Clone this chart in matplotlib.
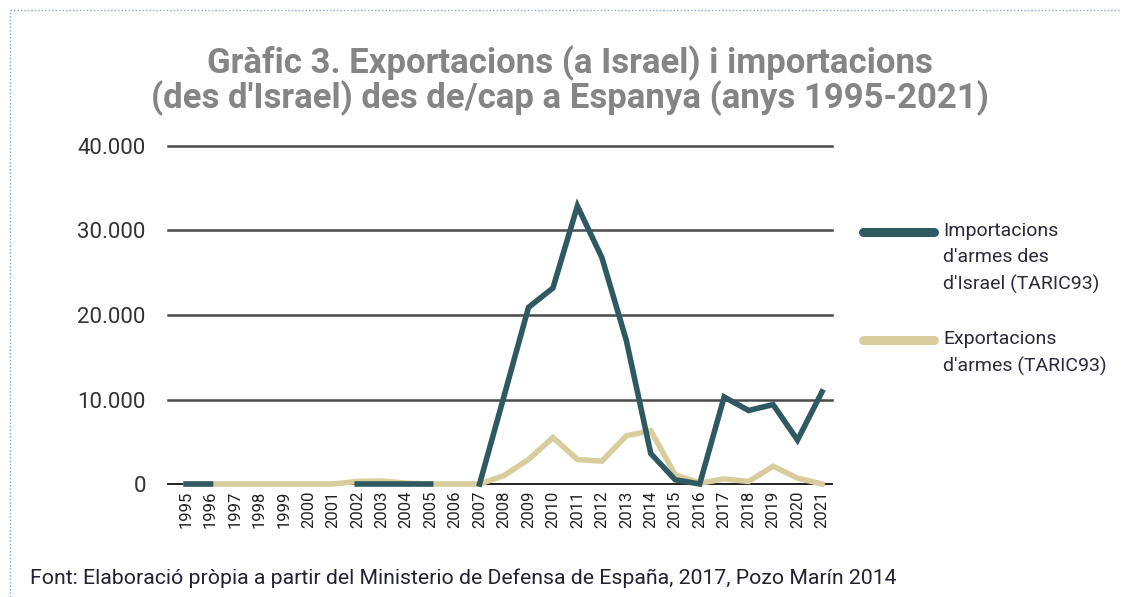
import numpy as np
import matplotlib.pyplot as plt
from matplotlib.lines import Line2D

plt.rcParams['font.family'] = ['Roboto', 'DejaVu Sans']

# Data (units, 1995-2021); NaN = no value drawn
years = list(range(1995, 2022))
imports = [0, 0, np.nan, np.nan, np.nan, np.nan, np.nan,
           0, 0, 0, 0, np.nan, 0,
           10400, 20900, 23200, 32900, 26800, 17000,
           3600, 500, 0, 10300, 8700, 9400, 5200, 10900]
exports = [0, 0, 0, 0, 0, 0, 0,
           300, 350, 100, 0, 0, 0,
           1000, 2900, 5500, 2900, 2700, 5700,
           6300, 1100, 100, 600, 300, 2100, 700, 0]
yticks = [0, 10000, 20000, 30000, 40000]
ytick_labels = ['0', '10.000', '20.000', '30.000', '40.000']
label_imp = "Importacions\nd'armes des\nd'Israel (TARIC93)"
label_exp = "Exportacions\nd'armes (TARIC93)"

dark = '#2f5960'
tan = '#d9cd9e'

W, H = 1121, 597
fig = plt.figure(figsize=(W / 100, H / 100), dpi=100)
ax = fig.add_axes([168 / W, 1 - 484 / H, 664 / W, 338 / H])

for y in yticks:
    ax.axhline(y, color='#4a4a4a' if y else '#222222', lw=1.8 if y else 1.4,
               zorder=1, clip_on=False)

ax.plot(years, exports, color=tan, lw=4, solid_joinstyle='miter', zorder=2, clip_on=False)
ax.plot(years, imports, color=dark, lw=4, solid_joinstyle='miter', zorder=3, clip_on=False)

ax.set_ylim(0, 40000)
ax.set_xlim(1994.26, 2021.41)
ax.set_yticks(yticks)
ax.set_yticklabels(ytick_labels, fontsize=16, color='#333333')
ax.set_xticks(years)
ax.set_xticklabels([str(y) for y in years], rotation=90, fontsize=12, color='#222222')
ax.tick_params(axis='y', length=0, pad=16)
ax.tick_params(axis='x', length=0, pad=5)
for s in ax.spines.values():
    s.set_visible(False)

# Title
fig.text(570 / W, 1 - 81 / H,
         "Gràfic 3. Exportacions (a Israel) i importacions\n"
         "(des d'Israel) des de/cap a Espanya (anys 1995-2021)",
         ha='center', va='center', fontsize=25, fontweight='bold',
         color='#858585', linespacing=0.98)

# Legend drawn by hand
fig.add_artist(Line2D([863 / W, 934 / W], [1 - 232 / H, 1 - 232 / H],
                      color=dark, lw=6.5, solid_capstyle='round'))
fig.add_artist(Line2D([863 / W, 934 / W], [1 - 340 / H, 1 - 340 / H],
                      color=tan, lw=6.5, solid_capstyle='round'))
fig.text(943 / W, 1 - 222 / H, label_imp, ha='left', va='top',
         fontsize=14, color='#2a2a3a', linespacing=1.58)
fig.text(943 / W, 1 - 330 / H, label_exp, ha='left', va='top',
         fontsize=14, color='#2a2a3a', linespacing=1.58)

# Source
fig.text(30 / W, 1 - 578 / H,
         "Font: Elaboració pròpia a partir del Ministerio de Defensa de España, 2017, Pozo Marín 2014",
         ha='left', va='center', fontsize=15.3, color='#222233')

# Dotted frame on top and left
fig.add_artist(Line2D([10 / W, 1], [1 - 10 / H, 1 - 10 / H], color='#8aa4d4',
                      lw=1, ls=(0, (1, 1.5))))
fig.add_artist(Line2D([10 / W, 10 / W], [0, 1 - 10 / H], color='#8aa4d4',
                      lw=1, ls=(0, (1, 1.5))))

fig.savefig('out.png', dpi=100)
